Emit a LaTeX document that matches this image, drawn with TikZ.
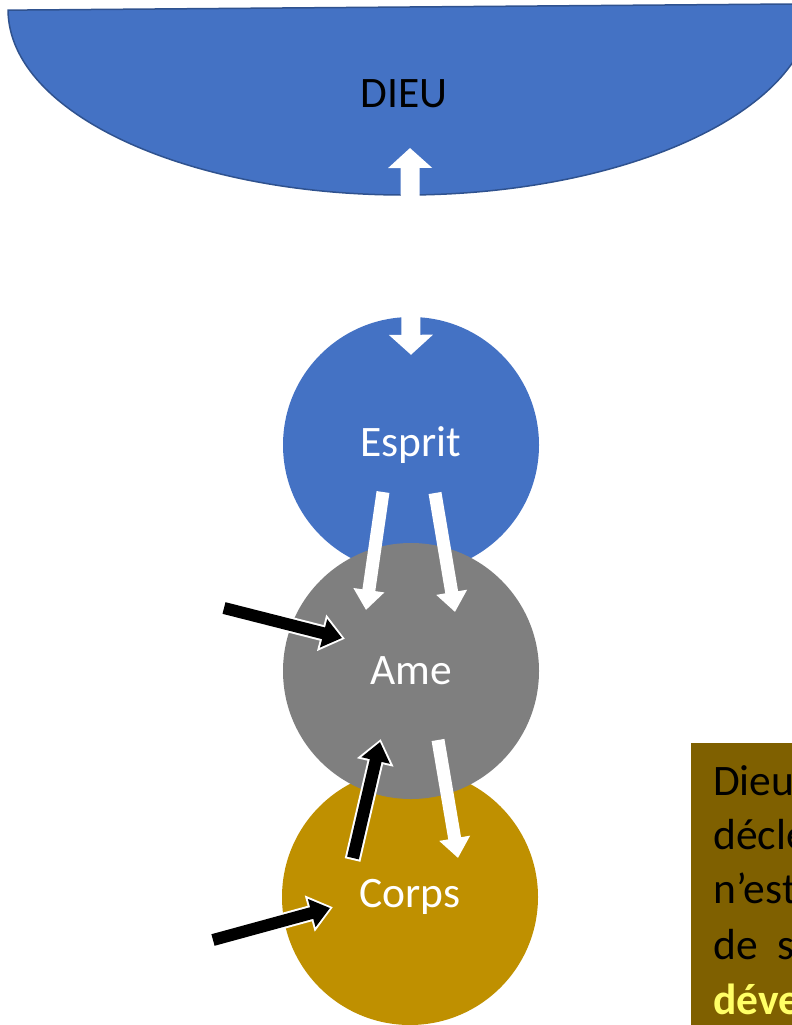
\documentclass[tikz,border=0pt]{standalone}
\usepackage{fontspec}
\setmainfont{Carlito}
\usetikzlibrary{arrows.meta,calc}
\definecolor{bleu}{HTML}{4472C4}
\definecolor{bleufonce}{HTML}{2F528F}
\definecolor{gris}{HTML}{7F7F7F}
\definecolor{dore}{HTML}{BF9000}
\definecolor{brun}{HTML}{7F6000}
\definecolor{jaune}{HTML}{FFFF66}
\tikzset{
	rond/.style={circle,minimum size=256pt,inner sep=0pt,text=white},
	fleche blanche/.style={white,line width=13pt,-{Triangle[width=30pt,length=20pt]}},
	fleche noire/.style={black,line width=12pt,-{Triangle[width=28pt,length=19pt]}},
	contour/.style={white,line width=16pt,-{Triangle[width=36pt,length=24pt]},shorten >=-3pt,shorten <=-2pt},
	ligne/.style={anchor=base west,inner sep=0pt}
}
\begin{document}
\begin{tikzpicture}[x=1pt,y=-1pt,font=\fontsize{43.5}{52}\selectfont]
	\useasboundingbox (0,0) rectangle (792,1025);
	\clip (0,0) rectangle (792,1025);
	\filldraw[fill=bleu,draw=bleufonce,line width=1.5pt,rotate around={0.45:(410,7)}]
		(8,7) arc[start angle=180,end angle=0,x radius=402,y radius=188] -- cycle;
	\node (dieu) at (404,94) {DIEU};
	\node[rond,fill=bleu] (esprit) at (411,445) {Esprit};
	\node[rond,fill=dore] (corps) at (410,897) {Corps};
	\node[rond,fill=gris] (ame) at (411,671) {Ame};
	\coordinate (hautdieu) at (410,148);
	\coordinate (gauche1) at (224,608);
	\coordinate (gauche2) at (213,940);
	% Dieu <-> Esprit
	\draw[white,line width=19pt,{Triangle[width=43pt,length=20pt]}-{Triangle[width=43pt,length=20pt]}]
		(hautdieu) -- ($(esprit.north)+(0,38)$);
	% Esprit -> Ame
	\draw[fleche blanche] ($(esprit)+(-28,47)$) -- ($(ame)+(-45,-61)$);
	\draw[fleche blanche] ($(esprit)+(24,48)$) -- ($(ame)+(44,-59)$);
	% Ame <-> Corps
	\draw[fleche blanche] ($(ame)+(27,69)$) -- ($(corps)+(48,-39)$);
	\draw[contour] ($(corps)+(-57,-39)$) -- ($(ame)+(-31,71)$);
	\draw[fleche noire] ($(corps)+(-57,-39)$) -- ($(ame)+(-31,71)$);
	% influences du dehors
	\draw[contour] (gauche1) -- ($(ame)+(-69,-33)$);
	\draw[fleche noire] (gauche1) -- ($(ame)+(-69,-33)$);
	\draw[contour] (gauche2) -- ($(corps)+(-80,11)$);
	\draw[fleche noire] (gauche2) -- ($(corps)+(-80,11)$);
	% texte
	\node[fill=brun,anchor=north west,minimum width=110pt,minimum height=290pt] (cadre) at (691,743) {};
	\node[ligne] (l1) at (713,795) {Dieu};
	\node[ligne] (l2) at (713,849) {décle};
	\node[ligne] (l3) at (713,903) {n’est};
	\node[ligne] (l4) at (713,959) {de\hspace{20pt}s};
	\node[ligne,text=jaune,font=\fontsize{43.5}{52}\selectfont\bfseries] (l5) at (713,1014) {déve};
\end{tikzpicture}
\end{document}
